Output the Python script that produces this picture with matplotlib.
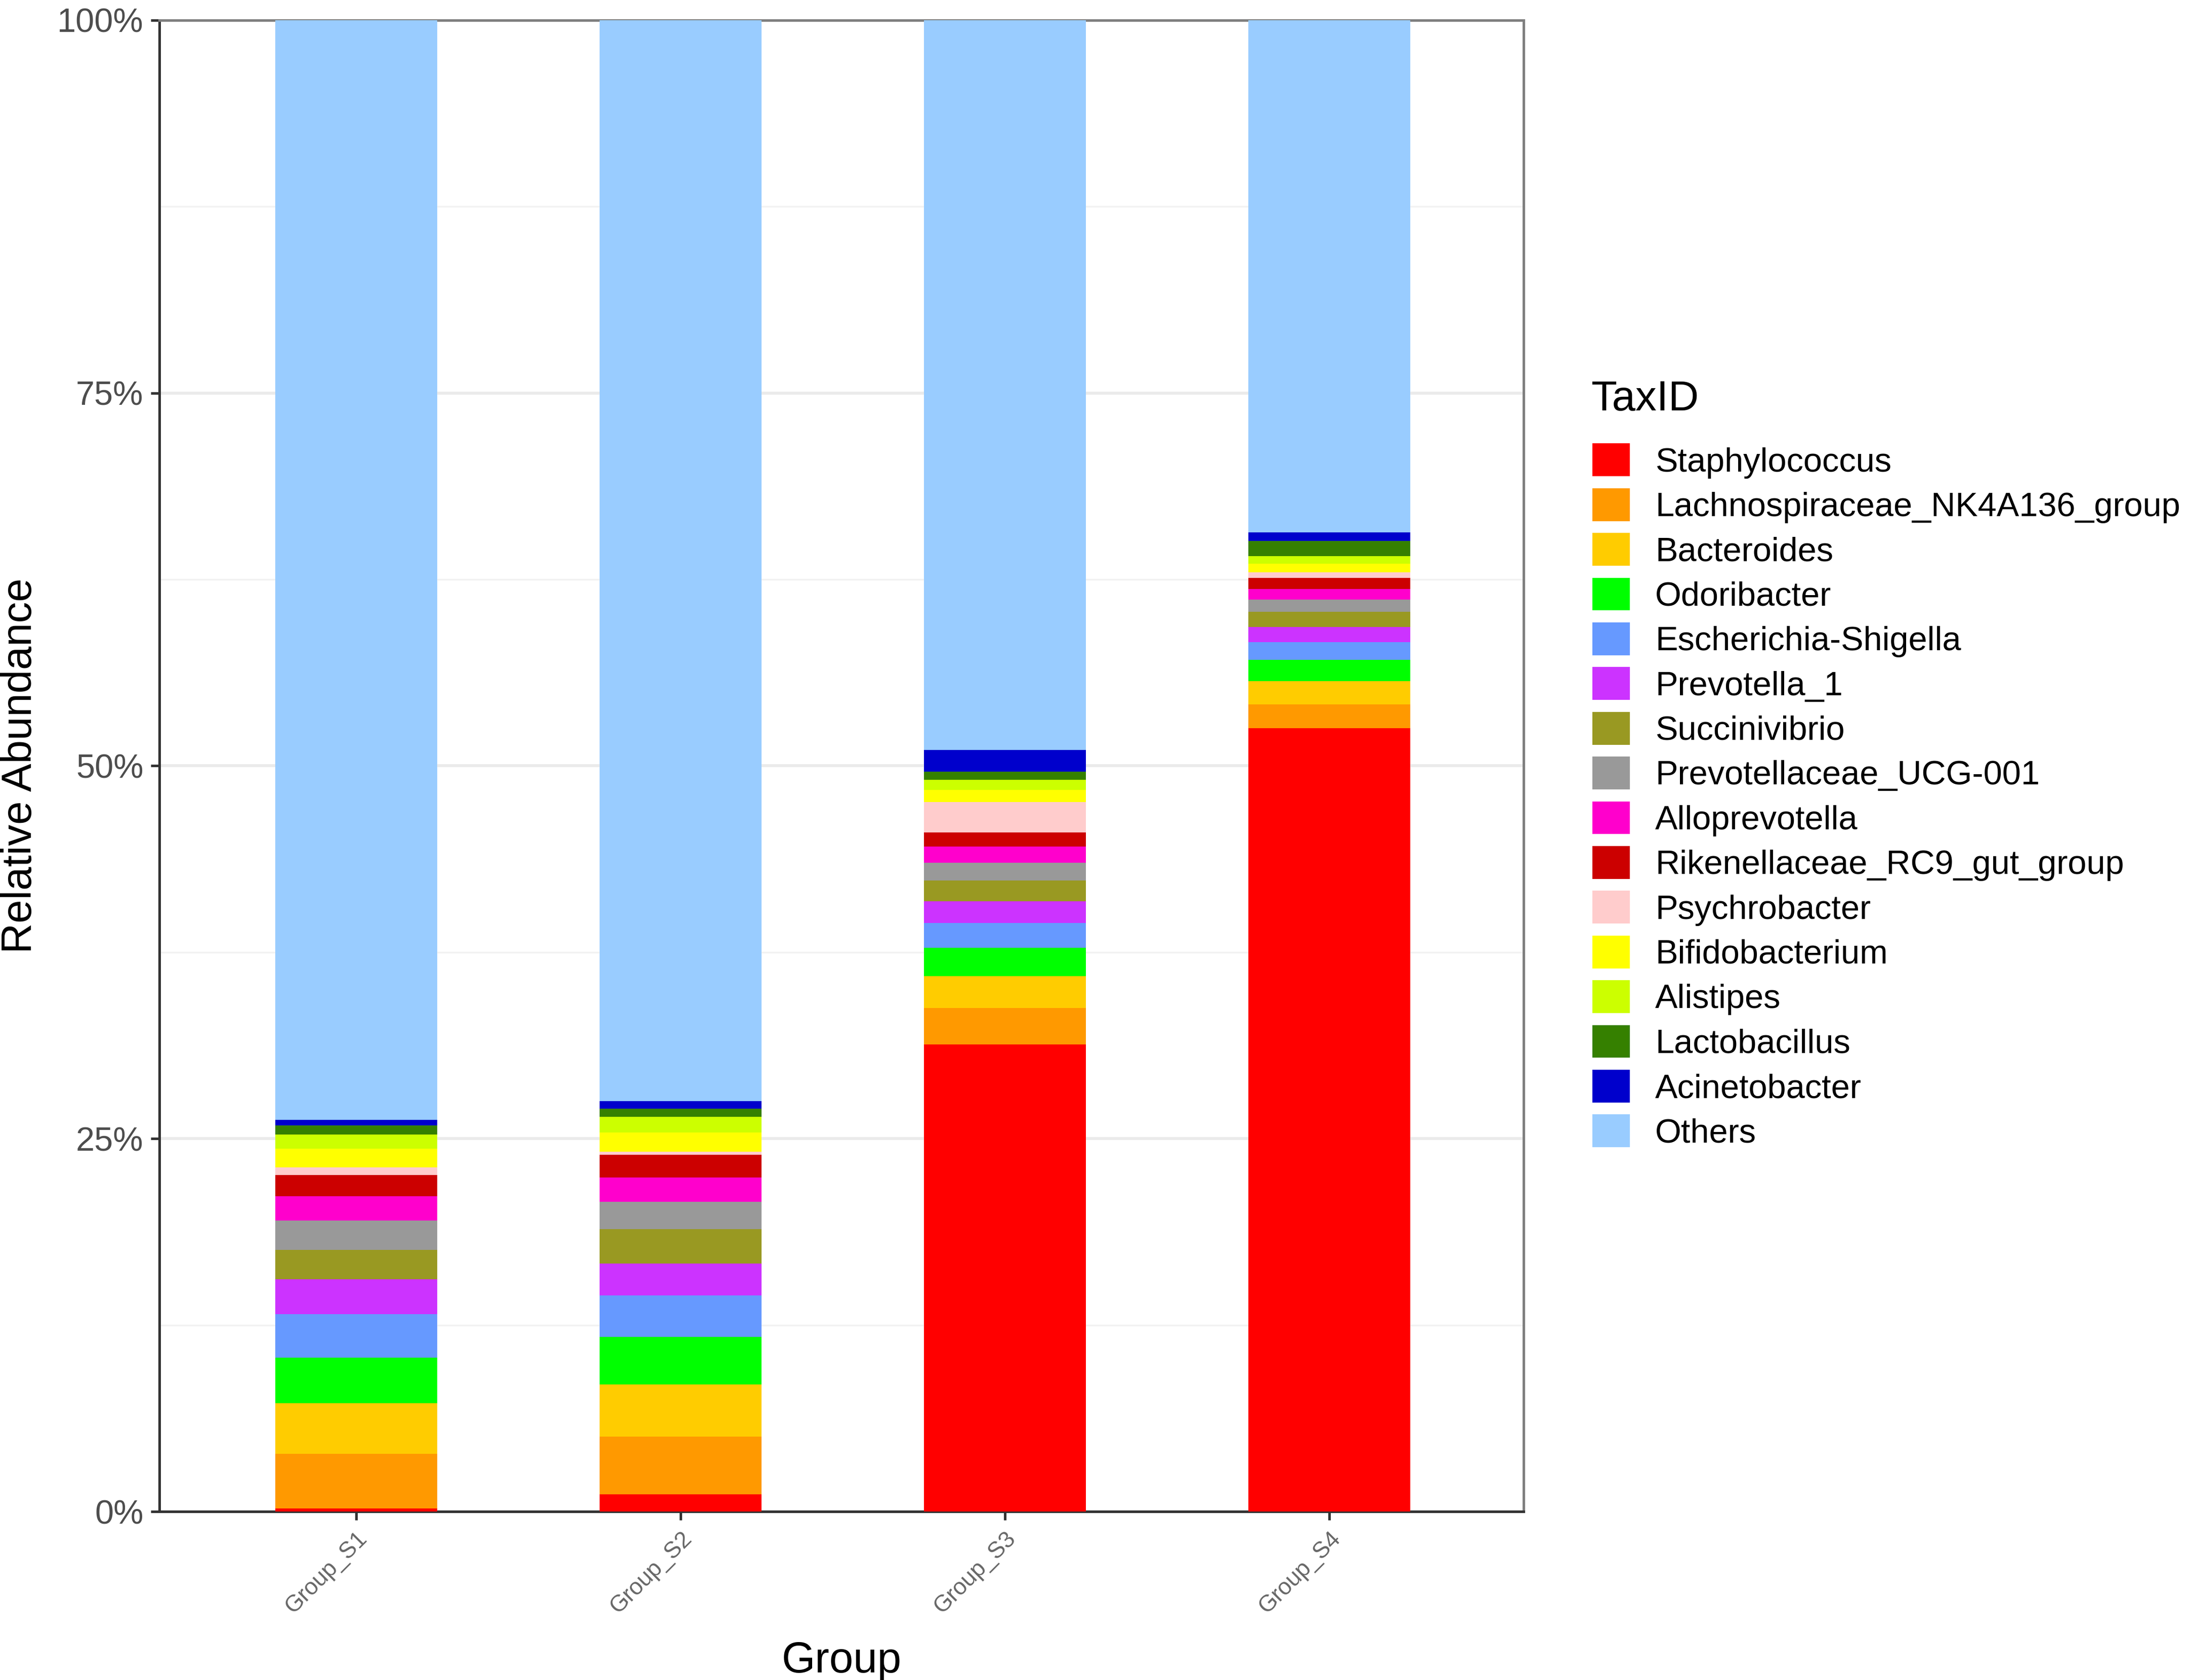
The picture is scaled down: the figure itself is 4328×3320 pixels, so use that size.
import numpy as np
import matplotlib.pyplot as plt
from matplotlib.patches import Patch

plt.rcParams['font.family'] = ['Liberation Sans', 'DejaVu Sans']

groups = ["Group_S1", "Group_S2", "Group_S3", "Group_S4"]

taxa = ["Staphylococcus", "Lachnospiraceae_NK4A136_group", "Bacteroides", "Odoribacter",
        "Escherichia-Shigella", "Prevotella_1", "Succinivibrio", "Prevotellaceae_UCG-001",
        "Alloprevotella", "Rikenellaceae_RC9_gut_group", "Psychrobacter", "Bifidobacterium",
        "Alistipes", "Lactobacillus", "Acinetobacter", "Others"]

colors = ["#FF0000", "#FF9900", "#FFCC00", "#00FF00", "#6699FF", "#CC33FF", "#999922",
          "#999999", "#FF00CC", "#CC0000", "#FFCCCC", "#FFFF00", "#CCFF00", "#358000",
          "#0000CC", "#99CCFF"]

# relative abundance (%) per group, in taxa order (Others last)
S1 = [0.20, 3.66, 3.39, 3.07, 2.90, 2.35, 1.98, 1.96, 1.62, 1.43, 0.51, 1.26, 0.94, 0.62, 0.38, 73.73]
S2 = [1.17, 3.86, 3.48, 3.20, 2.79, 2.13, 2.30, 1.82, 1.66, 1.51, 0.22, 1.28, 1.04, 0.56, 0.48, 72.50]
S3 = [31.32, 2.44, 2.14, 1.89, 1.68, 1.44, 1.39, 1.21, 1.07, 0.97, 2.01, 0.82, 0.68, 0.55, 1.44, 48.95]
S4 = [52.52, 1.61, 1.56, 1.41, 1.19, 1.02, 1.02, 0.81, 0.72, 0.73, 0.40, 0.56, 0.51, 1.02, 0.56, 34.36]

data = np.array([S1, S2, S3, S4])

fig = plt.figure(figsize=(14.427, 11.067), dpi=300)
ax = fig.add_axes([0.0727, 0.1003, 0.6231, 0.8877])

x = np.arange(1, len(groups) + 1)
bottom = np.zeros(len(groups))
for i, t in enumerate(taxa):
    ax.bar(x, data[:, i], bottom=bottom, width=0.5, color=colors[i], linewidth=0, zorder=3)
    bottom += data[:, i]

ax.set_xlim(0.393, 4.6)
ax.set_ylim(0, 100)
ax.set_yticks([0, 25, 50, 75, 100])
ax.set_yticklabels(["0%", "25%", "50%", "75%", "100%"], fontsize=16, color="#4D4D4D")
ax.set_yticks([12.5, 37.5, 62.5, 87.5], minor=True)
ax.set_xticks(x)
ax.set_xticklabels(groups, rotation=45, ha='right', rotation_mode='anchor',
                   fontsize=11, color="#666666")
ax.tick_params(axis='both', which='major', length=4, width=1.2, color="#333333")
ax.tick_params(axis='y', which='minor', length=0)
ax.grid(axis='y', which='major', color="#EBEBEB", linewidth=1.4, zorder=0)
ax.grid(axis='y', which='minor', color="#F2F2F2", linewidth=0.8, zorder=0)
for s in ax.spines.values():
    s.set_color("#7F7F7F")
    s.set_linewidth(1.2)
ax.spines['left'].set_color("#333333")
ax.spines['bottom'].set_color("#333333")

ax.set_ylabel("Relative Abundance", fontsize=20, labelpad=8)
ax.set_xlabel("Group", fontsize=20.5, labelpad=11)

# legend (title drawn separately to get the ggplot spacing)
fig.text(0.7264, 0.7625, "TaxID", fontsize=20, ha='left', va='center')
handles = [Patch(facecolor=c, edgecolor='none') for c in colors]
leg = fig.legend(handles, taxa, loc='upper left', bbox_to_anchor=(0.727, 0.736),
                 frameon=False, fontsize=16, borderpad=0, borderaxespad=0,
                 handlelength=1.12, handleheight=1.12, labelspacing=0.29,
                 handletextpad=0.75)

plt.savefig("out.png", dpi=300)
